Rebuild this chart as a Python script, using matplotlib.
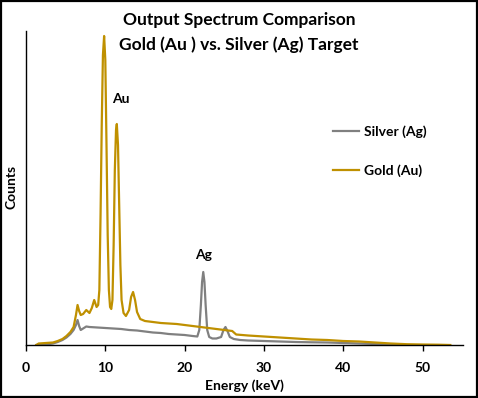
import matplotlib
matplotlib.use("Agg")
import matplotlib.pyplot as plt
from matplotlib.patches import Rectangle

plt.rcParams['font.family'] = ['Lato', 'DejaVu Sans']

gold_energy = [1.3, 1.6, 2.5, 3.4, 4.0, 4.6, 5.1, 5.6, 6.0, 6.3, 6.5, 6.7, 6.9, 7.2, 7.6,
               8.0, 8.3, 8.6, 8.9, 9.1, 9.25, 9.4, 9.55, 9.7, 9.85, 10.0, 10.15, 10.3,
               10.45, 10.6, 10.75, 10.9, 11.05, 11.2, 11.35, 11.45, 11.6, 11.75, 11.9,
               12.05, 12.3, 12.6, 13.0, 13.25, 13.5, 13.75, 14.0, 14.4, 15, 16, 17, 18,
               19, 20, 21, 22, 23, 24, 25, 26, 26.5, 28, 30, 32, 34, 36, 38, 40, 42, 44,
               46, 48, 50, 52, 53.5]
gold_counts = [0, 1.5, 2, 2.5, 4, 6, 9, 13, 18, 30, 40, 34, 30, 31, 35,
               32, 37, 45, 38, 40, 55, 130, 220, 290, 309, 285, 200, 110,
               55, 38, 36, 45, 100, 175, 215, 221, 200, 140, 80,
               45, 32, 29, 35, 48, 53, 45, 33, 26, 24, 23, 22, 21.5,
               21, 20, 19, 18, 17, 16, 15, 14, 10.5, 9.5, 8.5, 7.5, 6.5, 5.5, 5, 4, 3.5, 2.5,
               1.5, 0.8, 0.5, 0.3, 0]

silver_energy = [1.3, 2.5, 3.4, 4.0, 4.6, 5.1, 5.6, 6.0, 6.3, 6.5, 6.7, 6.9, 7.3, 7.6,
                 8.0, 9, 10, 11, 12, 13, 14, 15, 16, 17, 18, 19, 20, 21, 21.6, 21.85,
                 22.05, 22.2, 22.35, 22.5, 22.65, 22.85, 23.1, 23.5, 24, 24.6, 24.9,
                 25.15, 25.4, 25.7, 26.2, 27, 28, 30, 32, 34, 36, 38, 40, 42, 44, 46, 47.2]
silver_counts = [0, 0.5, 1.5, 3, 5, 7.5, 11, 15, 20, 25, 19, 15, 17, 18.5,
                 18, 17.5, 17, 16.5, 16, 15, 14.5, 13.5, 12.5, 12, 11, 10.5, 10, 9, 8.5, 15,
                 40, 63, 73, 63, 40, 15, 8, 6.5, 6.5, 8, 15,
                 18, 14, 8, 6, 5, 4.5, 4, 3.5, 3, 2.7, 2.5, 2, 1.5, 1, 0.5, 0]

x_ticks = [0, 10, 20, 30, 40, 50]

GOLD = '#BF9000'
GRAY = '#808080'

fig = plt.figure(figsize=(4.78, 3.98), dpi=100)
ax = fig.add_axes([26/478, 1 - 345/398, (463-26)/478, (345-31)/398])

ax.plot(silver_energy, silver_counts, color=GRAY, lw=1.6, label='Silver (Ag)')
ax.plot(gold_energy, gold_counts, color=GOLD, lw=1.6, label='Gold (Au)')

ax.set_xlim(0, 55.1)
ax.set_ylim(0, 314)
ax.set_xticks(x_ticks)
ax.set_xticklabels([str(t) for t in x_ticks], fontweight='bold', fontsize=10)
ax.set_yticks([])
ax.tick_params(axis='x', direction='out', length=4, width=1, pad=8)
for s in ['top', 'right']:
    ax.spines[s].set_visible(False)
for s in ['left', 'bottom']:
    ax.spines[s].set_linewidth(1.0)

ax.set_xlabel('Energy (keV)', fontweight='bold', fontsize=10, labelpad=4)
fig.text(12/478, 1 - 187/398, 'Counts', rotation=90, ha='center', va='center',
         fontweight='bold', fontsize=10)

fig.text(0.5, 1 - 20/398, 'Output Spectrum Comparison', ha='center', va='center',
         fontweight='bold', fontsize=12.5)
fig.text(0.5, 1 - 45/398, 'Gold (Au ) vs. Silver (Ag) Target', ha='center', va='center',
         fontweight='bold', fontsize=12.5)

ax.text(12.0, 246, 'Au', ha='center', va='center', fontweight='bold', fontsize=10)
ax.text(22.4, 90, 'Ag', ha='center', va='center', fontweight='bold', fontsize=10)

leg = ax.legend(loc='upper left', bbox_to_anchor=((326-26)/437, 1 - (118-31)/314),
                frameon=False, prop={'weight': 'bold', 'size': 10},
                handlelength=1.9, handletextpad=0.3, labelspacing=1.9, borderpad=0)

fig.patches.append(Rectangle((0.002, 0.002), 0.996, 0.996, transform=fig.transFigure,
                             fill=False, edgecolor='black', lw=1.6))

fig.savefig('out.png', dpi=100)
